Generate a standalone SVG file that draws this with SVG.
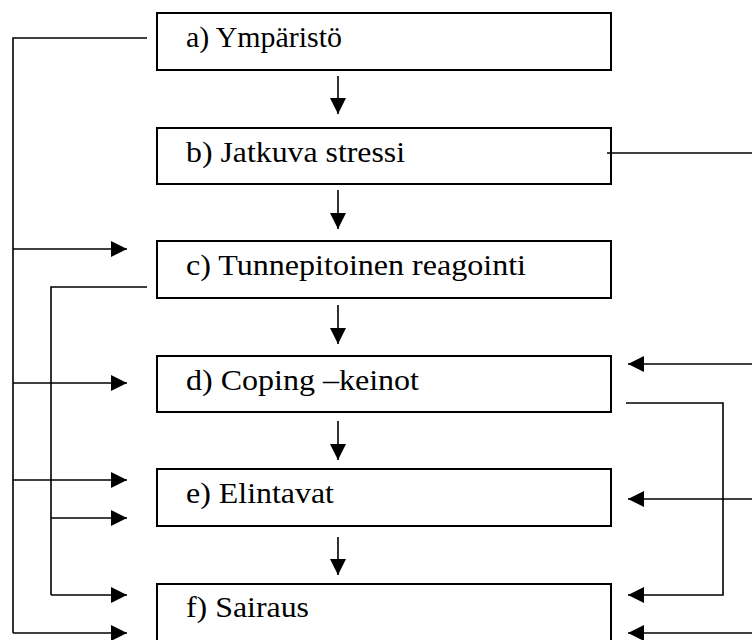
<svg xmlns="http://www.w3.org/2000/svg" width="752" height="640" viewBox="0 0 752 640">
<style>
.box{fill:#fff;stroke:#000;stroke-width:2}
.lbl{font-family:"Liberation Serif","Times New Roman",serif;font-size:30px;fill:#000}
.ln{fill:none;stroke:#000;stroke-width:1.6}
</style>
<defs>
<marker id="ah" markerUnits="userSpaceOnUse" markerWidth="16" markerHeight="16" refX="16" refY="8" orient="auto">
<path d="M0,0 L16,8 L0,16 z" fill="#000"/>
</marker>
</defs>
<rect width="752" height="640" fill="#fff"/>
<g id="a"><rect class="box" x="157" y="13" width="454" height="57"/><text class="lbl" x="186" y="47" textLength="156" lengthAdjust="spacingAndGlyphs">a) Ympäristö</text></g>
<g id="b"><rect class="box" x="157" y="128" width="454" height="56"/><text class="lbl" x="186" y="162" textLength="219" lengthAdjust="spacingAndGlyphs">b) Jatkuva stressi</text></g>
<g id="c"><rect class="box" x="157" y="241" width="454" height="57"/><text class="lbl" x="186" y="275" textLength="340" lengthAdjust="spacingAndGlyphs">c) Tunnepitoinen reagointi</text></g>
<g id="d"><rect class="box" x="157" y="356" width="454" height="56"/><text class="lbl" x="186" y="390" textLength="233" lengthAdjust="spacingAndGlyphs">d) Coping –keinot</text></g>
<g id="e"><rect class="box" x="157" y="469" width="454" height="57"/><text class="lbl" x="186" y="503" textLength="148" lengthAdjust="spacingAndGlyphs">e) Elintavat</text></g>
<g id="f"><rect class="box" x="157" y="584" width="454" height="60"/><text class="lbl" x="186" y="617" textLength="123" lengthAdjust="spacingAndGlyphs">f) Sairaus</text></g>
<g id="connectors">
<path class="ln" d="M338,76 V114" marker-end="url(#ah)"/>
<path class="ln" d="M338,190 V229" marker-end="url(#ah)"/>
<path class="ln" d="M338,305 V344" marker-end="url(#ah)"/>
<path class="ln" d="M338,421 V460" marker-end="url(#ah)"/>
<path class="ln" d="M338,537 V575" marker-end="url(#ah)"/>
<path class="ln" d="M147,38 H13 V633"/>
<path class="ln" d="M13,249 H127" marker-end="url(#ah)"/>
<path class="ln" d="M13,383 H127" marker-end="url(#ah)"/>
<path class="ln" d="M13,480 H127" marker-end="url(#ah)"/>
<path class="ln" d="M13,633 H127" marker-end="url(#ah)"/>
<path class="ln" d="M147,287 H51 V595"/>
<path class="ln" d="M51,518 H127" marker-end="url(#ah)"/>
<path class="ln" d="M51,595 H127" marker-end="url(#ah)"/>
<path class="ln" d="M607,153 H752"/>
<path class="ln" d="M752,364 H628" marker-end="url(#ah)"/>
<path class="ln" d="M626,403 H723 V595 H628" marker-end="url(#ah)"/>
<path class="ln" d="M752,499 H628" marker-end="url(#ah)"/>
<path class="ln" d="M752,633 H628" marker-end="url(#ah)"/>
</g>
</svg>
